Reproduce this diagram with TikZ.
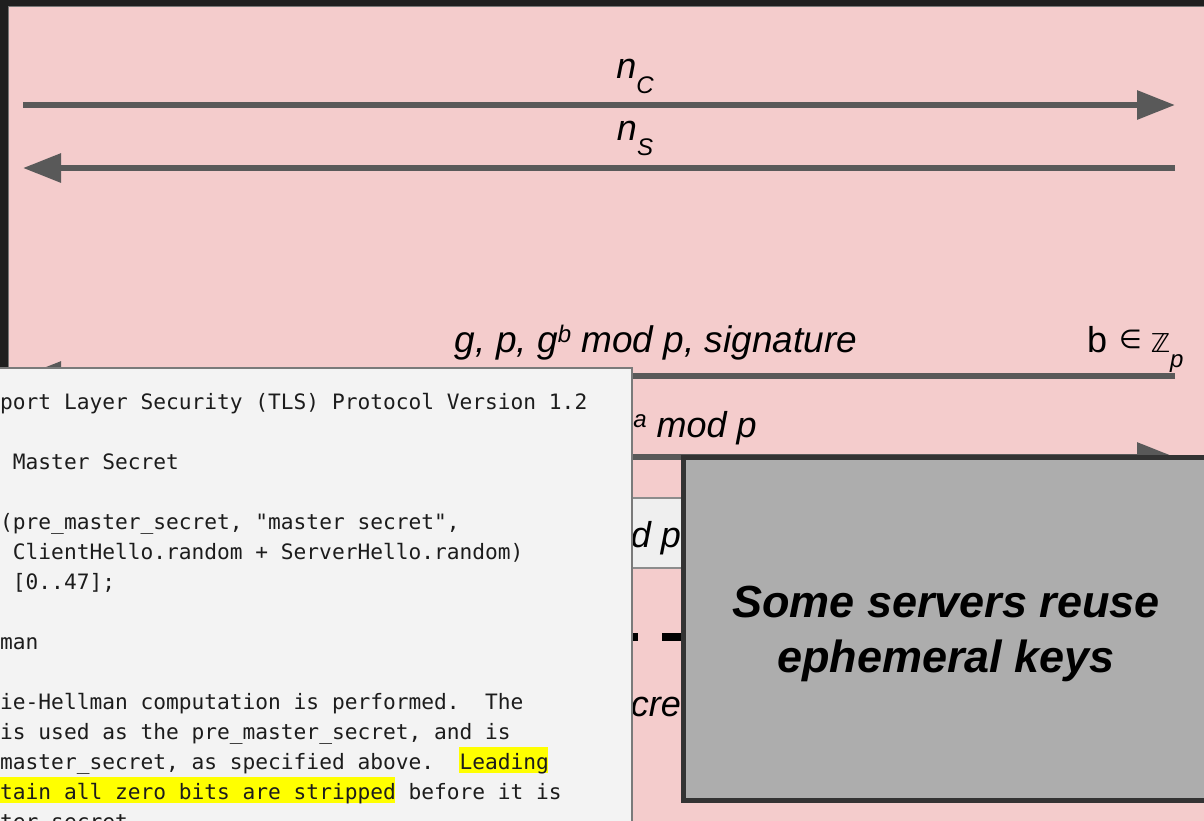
\documentclass[tikz,border=0pt]{standalone}
\usepackage{fontspec}
\setmainfont{Liberation Sans}
\newfontfamily\monofont{DejaVu Sans Mono}
\newfontfamily\symbfont{DejaVu Sans}
\usepackage{tikz}
\usetikzlibrary{arrows.meta}
\definecolor{darkbg}{HTML}{1F1F1F}
\definecolor{pinkbg}{HTML}{F4CCCC}
\definecolor{frameline}{HTML}{777777}
\definecolor{arrowgray}{HTML}{595959}
\definecolor{notefill}{HTML}{EFEFEF}
\definecolor{noteline}{HTML}{8C8C8C}
\definecolor{docfill}{HTML}{F3F3F3}
\definecolor{docline}{HTML}{7A7A7A}
\definecolor{doctext}{HTML}{1C1C1C}
\definecolor{keyfill}{HTML}{ADADAD}
\definecolor{keyline}{HTML}{333333}
\definecolor{hl}{HTML}{FFFF00}
\newcommand\upidx[1]{\raisebox{10pt}{\fontsize{24}{24}\selectfont #1}}
\newcommand\lowidx[1]{\raisebox{-15pt}{\fontsize{24}{24}\selectfont #1}}
\tikzstyle{msg}=[line width=6pt,draw=arrowgray,-{Triangle[length=38pt,width=28pt]}]
\tikzstyle{lbl}=[anchor=base,inner sep=0pt,font=\fontsize{36}{40}\selectfont\itshape]
\tikzstyle{mono}=[anchor=base west,inner sep=0pt,text=doctext,font=\monofont\fontsize{21.2}{30}\selectfont]
\tikzstyle{keybox}=[draw=keyline,line width=5pt,fill=keyfill,minimum width=525pt,minimum height=342.5pt,inner sep=0pt,align=center,font=\fontsize{45}{55}\selectfont\bfseries\itshape]

\begin{document}
\frenchspacing
\begin{tikzpicture}[x=1pt,y=-1pt]
\useasboundingbox (0,0) rectangle (1204,820);
\clip (0,0) rectangle (1204,820);
\fill[darkbg] (0,0) rectangle (1204,820);
\draw[fill=pinkbg,draw=frameline,line width=1pt] (8.5,6.5) rectangle (1230,850);

% client side / server side ends
\coordinate (c1) at (23,105); \coordinate (s1) at (1175,105);
\coordinate (c2) at (23,168); \coordinate (s2) at (1175,168);
\coordinate (c3) at (23,376); \coordinate (s3) at (1175,376);
\coordinate (c4) at (23,457); \coordinate (s4) at (1175,457);
\coordinate (c5) at (38,637); \coordinate (s5) at (1175,637);

\draw[msg] (c1)--(s1);
\draw[msg] (s2)--(c2);
\draw[msg] (s3)--(c3);
\draw[msg] (c4)--(s4);

\node[lbl] (nc) at (635,78) {n\lowidx{C}};
\node[lbl] (ns) at (635,140) {n\lowidx{S}};
\node[lbl,font=\fontsize{37}{40}\selectfont\itshape] (gpb) at (656,352) {g, p, g\upidx{b} mod p, signature};
\node[lbl,anchor=base west] (bzp) at (1087,352) {\upshape b\hspace{12pt}{\symbfont\fontsize{26}{26}\selectfont\raisebox{4pt}{∈}\hspace{9pt}ℤ}\lowidx{\itshape p}};
\node[lbl] (ga) at (685,437) {g\upidx{a} mod p};

% shared key box and dashed line
\draw[fill=notefill,draw=noteline,line width=1.5pt] (560,498) rectangle (760,568);
\node[lbl,anchor=base east] (dp) at (681,547) {d p};
\draw[line width=8pt,dash pattern=on 24pt off 24pt] (c5)--(s5);
\node[lbl,anchor=base east] (cre) at (681,716) {cre};

% RFC text
\draw[fill=docfill,draw=docline,line width=2pt] (-20,368) rectangle (632,840);
\fill[hl] (459,747) rectangle (548,773);
\fill[hl] (0,777) rectangle (395,803);
\node[mono] (l1) at (0,409) {port Layer Security (TLS) Protocol Version 1.2};
\node[mono] (l2) at (12.75,469) {Master Secret};
\node[mono] (l3) at (0,529) {(pre\_master\_secret, "master secret",};
\node[mono] (l4) at (12.75,559) {ClientHello.random + ServerHello.random)};
\node[mono] (l5) at (12.75,589) {[0..47];};
\node[mono] (l6) at (0,649) {man};
\node[mono] (l7) at (0,709) {ie-Hellman computation is performed.\ \ The};
\node[mono] (l8) at (0,739) {is used as the pre\_master\_secret, and is};
\node[mono] (l9) at (0,769) {master\_secret, as specified above.\ \ Leading};
\node[mono] (l10) at (0,799) {tain all zero bits are stripped before it is};
\node[mono] (l11) at (0,829) {ter\_secret};

\node[keybox] (reuse) at (946,628.75) {\rule{0pt}{41pt}Some servers reuse\\ephemeral keys};
\end{tikzpicture}
\end{document}
